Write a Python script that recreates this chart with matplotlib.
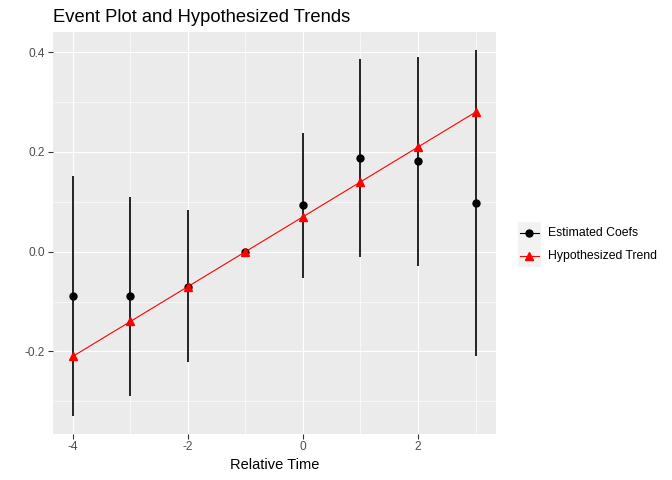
import matplotlib.pyplot as plt
import numpy as np

# data
rel_time = [-4, -3, -2, -1, 0, 1, 2, 3]
coefs = [-0.089, -0.089, -0.07, 0.0, 0.093, 0.187, 0.181, 0.097]
ci_low = [-0.329, -0.289, -0.221, 0.0, -0.053, -0.011, -0.029, -0.209]
ci_high = [0.151, 0.110, 0.083, 0.0, 0.238, 0.387, 0.391, 0.405]
trend = [-0.21, -0.14, -0.07, 0.0, 0.07, 0.14, 0.21, 0.28]

x_ticks = [-4, -2, 0, 2]
y_ticks = [-0.2, 0.0, 0.2, 0.4]
legend_labels = ["Estimated Coefs", "Hypothesized Trend"]

plt.rcParams['font.family'] = ['Liberation Sans', 'DejaVu Sans']

W, H = 672, 480
fig = plt.figure(figsize=(W / 100, H / 100), dpi=100)
ax = fig.add_axes([52.7 / W, (H - 434) / H, (495.7 - 52.7) / W, (434 - 31.5) / H])

ax.set_facecolor("#EBEBEB")
for s in ax.spines.values():
    s.set_visible(False)

# ggplot-like grid
ax.set_xticks(x_ticks)
ax.set_yticks(y_ticks)
ax.set_xticks([-3, -1, 1, 3], minor=True)
ax.set_yticks([-0.3, -0.1, 0.1, 0.3], minor=True)
ax.grid(which="major", color="white", lw=0.85)
ax.grid(which="minor", color="white", lw=0.45)
ax.set_axisbelow(True)

# error bars + estimated coefs
ax.vlines(rel_time, ci_low, ci_high, color="black", lw=1.2, zorder=3)
ax.plot(rel_time, coefs, "o", color="black", ms=5.0, zorder=4)

# hypothesized trend
ax.plot(rel_time, trend, "-", color="red", lw=0.8, zorder=5)
ax.plot(rel_time, trend, "^", color="red", ms=6.3, zorder=6)

xr = max(rel_time) - min(rel_time)
ax.set_xlim(min(rel_time) - 0.05 * xr, max(rel_time) + 0.05 * xr)
ymin, ymax = min(ci_low), max(ci_high)
yr = ymax - ymin
ax.set_ylim(ymin - 0.05 * yr, ymax + 0.05 * yr)

ax.set_xticklabels([str(v) for v in x_ticks])
ax.set_yticklabels([f"{v:.1f}" for v in y_ticks])
ax.tick_params(which="major", length=3.3, width=0.8, color="#333333",
               labelcolor="#4D4D4D", labelsize=8.6, pad=2)
ax.tick_params(which="minor", length=0)
ax.set_xlabel("Relative Time", fontsize=10.5, labelpad=3)

fig.text(53 / W, 1 - 17 / H, "Event Plot and Hypothesized Trends",
         fontsize=13.2, ha="left", va="center")

# legend, drawn by hand to get the grey key boxes
key_h = 22.7
leg = fig.add_axes([518 / W, (H - 267) / H, 22.7 / W, 2 * key_h / H])
leg.set_xlim(0, 1)
leg.set_ylim(0, 2)
leg.axis("off")
leg.add_patch(plt.Rectangle((0, 0), 1, 2, color="#F2F2F2", zorder=0))
leg.plot([0.07, 0.93], [1.5, 1.5], color="black", lw=0.8)
leg.plot([0.5], [1.5], "o", color="black", ms=5.0)
leg.plot([0.07, 0.93], [0.5, 0.5], color="red", lw=0.8)
leg.plot([0.5], [0.5], "^", color="red", ms=6.3)
for i, lab in enumerate(legend_labels):
    yc = 221.7 + key_h * (i + 0.5)
    fig.text(548 / W, 1 - yc / H, lab, fontsize=8.8, ha="left", va="center")

fig.savefig("out.png", dpi=100)
